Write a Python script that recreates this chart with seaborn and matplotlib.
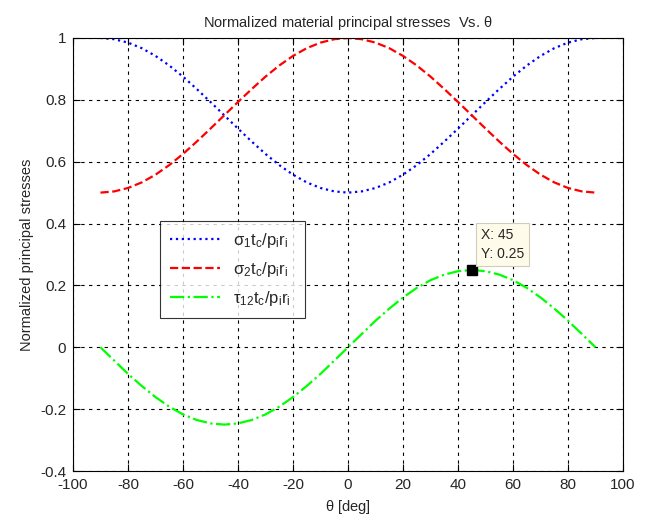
import numpy as np
import pandas as pd
import matplotlib
matplotlib.use("Agg")
import matplotlib.pyplot as plt
import seaborn as sns

## Data (5 deg steps) ##
theta = list(range(-90, 95, 5))
sigma1 = [1.0, 0.996, 0.985, 0.967, 0.942, 0.911, 0.875, 0.835, 0.793, 0.75,
          0.707, 0.665, 0.625, 0.589, 0.558, 0.533, 0.515, 0.504, 0.5,
          0.504, 0.515, 0.533, 0.558, 0.589, 0.625, 0.665, 0.707, 0.75,
          0.793, 0.835, 0.875, 0.911, 0.942, 0.967, 0.985, 0.996, 1.0]
sigma2 = [0.5, 0.504, 0.515, 0.533, 0.558, 0.589, 0.625, 0.665, 0.707, 0.75,
          0.793, 0.835, 0.875, 0.911, 0.942, 0.967, 0.985, 0.996, 1.0,
          0.996, 0.985, 0.967, 0.942, 0.911, 0.875, 0.835, 0.793, 0.75,
          0.707, 0.665, 0.625, 0.589, 0.558, 0.533, 0.515, 0.504, 0.5]
tau12 = [0.0, -0.043, -0.086, -0.125, -0.161, -0.192, -0.217, -0.235, -0.246, -0.25,
         -0.246, -0.235, -0.217, -0.192, -0.161, -0.125, -0.086, -0.043, 0.0,
         0.043, 0.086, 0.125, 0.161, 0.192, 0.217, 0.235, 0.246, 0.25,
         0.246, 0.235, 0.217, 0.192, 0.161, 0.125, 0.086, 0.043, 0.0]
tip_x = 45
tip_y = 0.25

x_ticks = list(range(-100, 101, 20))
y_ticks = [-0.4, -0.2, 0, 0.2, 0.4, 0.6, 0.8, 1]
y_tick_labels = ['-0.4', '-0.2', '0', '0.2', '0.4', '0.6', '0.8', '1']

df = pd.DataFrame({'theta': theta, 's1': sigma1, 's2': sigma2, 't12': tau12})

## Style ##
sns.set_style("white")
plt.rcParams['font.family'] = ['Liberation Sans', 'DejaVu Sans']
plt.rcParams['mathtext.fontset'] = 'custom'
plt.rcParams['mathtext.rm'] = 'Liberation Sans'
plt.rcParams['mathtext.it'] = 'Liberation Sans'
plt.rcParams['mathtext.default'] = 'rm'
plt.rcParams['axes.unicode_minus'] = False

fig = plt.figure(figsize=(6.51, 5.18), dpi=100)
ax = fig.add_axes([0.1121, 0.0907, 0.845, 0.836])

sns.lineplot(data=df, x='theta', y='s1', ax=ax, color='#0000ff', linestyle=':', linewidth=1.6,
             label=r'$\sigma_1 t_c / p_i r_i$')
sns.lineplot(data=df, x='theta', y='s2', ax=ax, color='#ff0000', linestyle='--', linewidth=1.6,
             label=r'$\sigma_2 t_c / p_i r_i$')
sns.lineplot(data=df, x='theta', y='t12', ax=ax, color='#00ff00', linestyle='-.', linewidth=1.6,
             label=r'$\tau_{12} t_c / p_i r_i$')

# data tip
ax.plot([tip_x], [tip_y], marker='s', color='black', markersize=7, linestyle='none')
ax.text(tip_x + 3.4, tip_y + 0.029, 'X: %d\nY: %s' % (tip_x, tip_y), fontsize=10,
        va='bottom', ha='left', linespacing=1.45,
        bbox=dict(boxstyle='square,pad=0.35', facecolor='#fffbeb', edgecolor='#d0ccb8', linewidth=0.8))

ax.set_xlim(-100, 100)
ax.set_ylim(-0.4, 1)
ax.set_xticks(x_ticks)
ax.set_yticks(y_ticks)
ax.set_yticklabels(y_tick_labels)
ax.tick_params(direction='in', length=5, width=0.8, labelsize=11, color='black',
               top=True, right=True, bottom=True, left=True, pad=5)
ax.grid(True, color='black', linestyle=(0, (3, 4)), linewidth=0.8)
for s in ax.spines.values():
    s.set_color('black')
    s.set_linewidth(0.8)

ax.set_xlabel(r'$\theta$ [deg]', fontsize=10.5)
ax.set_ylabel('Normalized principal stresses', fontsize=10.5)
ax.set_title(r'Normalized material principal stresses  Vs. $\theta$', fontsize=10.5, pad=8)

leg = ax.legend(loc='lower left', bbox_to_anchor=(0.158, 0.353, 0.264, 0.2425), mode='expand',
                fontsize=12, frameon=True, fancybox=False, handlelength=3.0,
                borderaxespad=0, labelspacing=0.6, borderpad=0.6)
leg.get_frame().set_edgecolor('black')
leg.get_frame().set_linewidth(0.8)

plt.savefig('out.png', dpi=100)
